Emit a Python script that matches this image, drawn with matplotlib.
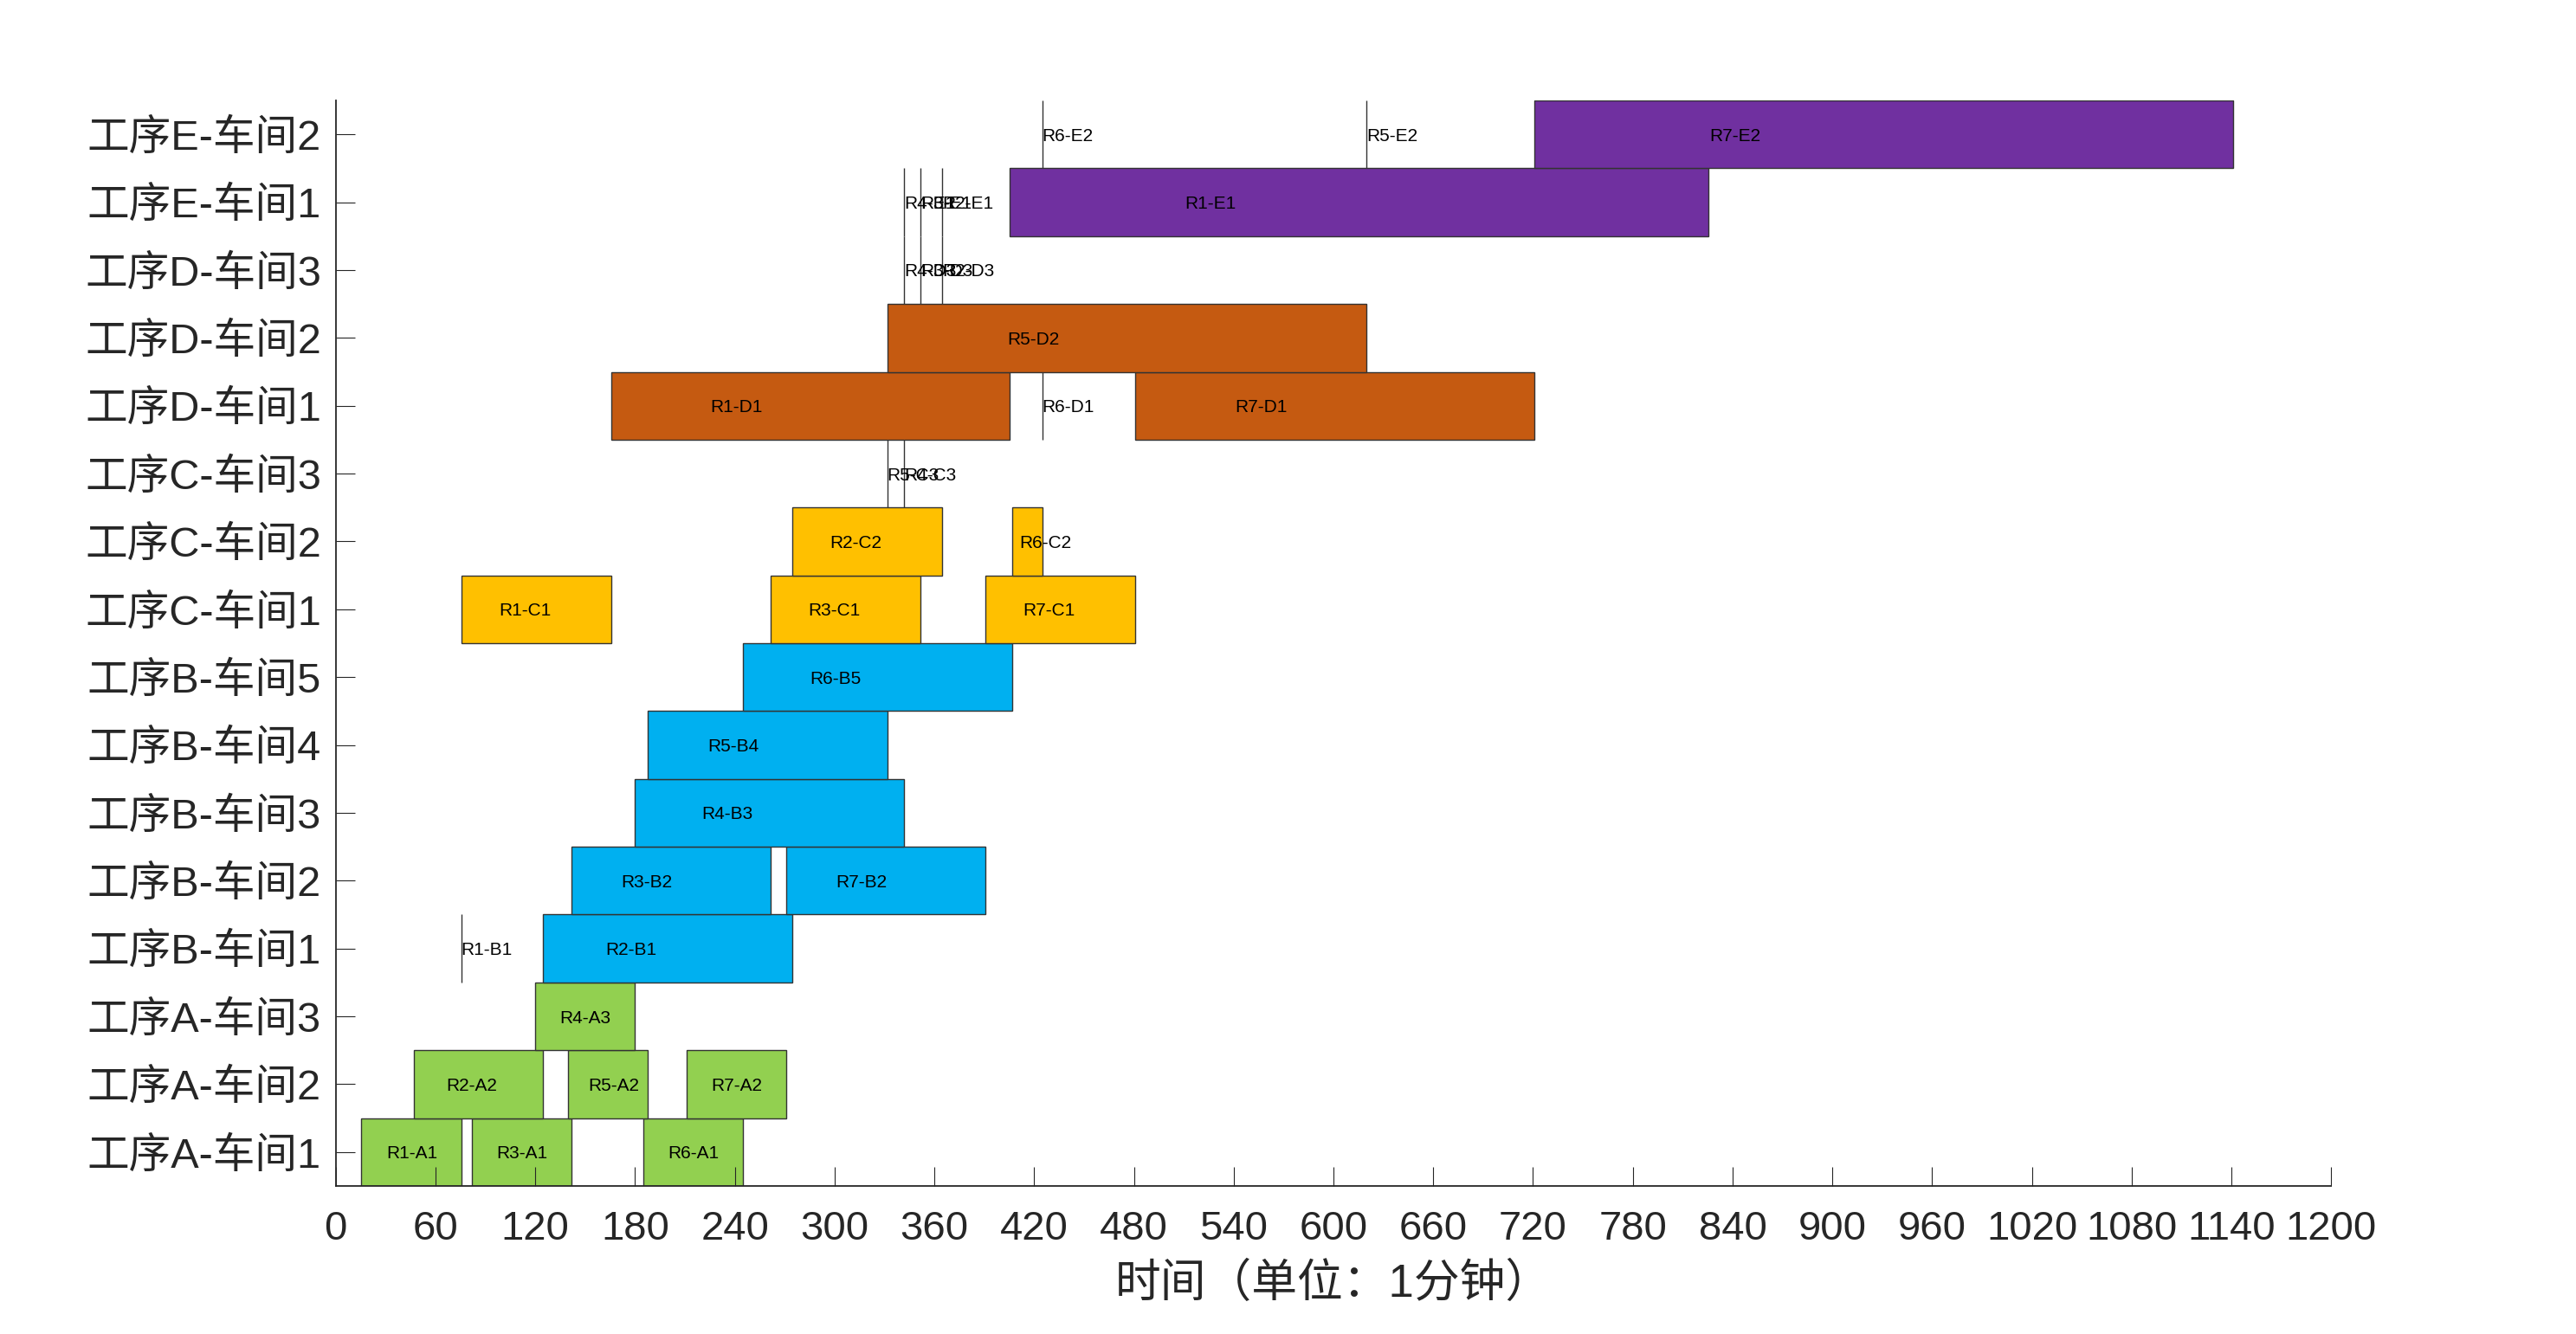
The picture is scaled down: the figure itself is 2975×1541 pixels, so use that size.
import matplotlib
matplotlib.use('Agg')
import matplotlib.pyplot as plt

# machine rows, bottom to top
machines = ['工序A-车间1', '工序A-车间2', '工序A-车间3',
            '工序B-车间1', '工序B-车间2', '工序B-车间3', '工序B-车间4', '工序B-车间5',
            '工序C-车间1', '工序C-车间2', '工序C-车间3',
            '工序D-车间1', '工序D-车间2', '工序D-车间3',
            '工序E-车间1', '工序E-车间2']

# each task: label, machine row (1-based), start, duration (minutes)
task_labels = ['R1-A1', 'R3-A1', 'R6-A1',
               'R2-A2', 'R5-A2', 'R7-A2',
               'R4-A3',
               'R1-B1', 'R2-B1',
               'R3-B2', 'R7-B2',
               'R4-B3',
               'R5-B4',
               'R6-B5',
               'R1-C1', 'R3-C1', 'R7-C1',
               'R2-C2', 'R6-C2',
               'R5-C3', 'R4-C3',
               'R1-D1', 'R6-D1', 'R7-D1',
               'R5-D2',
               'R4-D3', 'R3-D3', 'R2-D3',
               'R4-E1', 'R3-E1', 'R2-E1', 'R1-E1',
               'R6-E2', 'R5-E2', 'R7-E2']
task_rows = [1, 1, 1,
             2, 2, 2,
             3,
             4, 4,
             5, 5,
             6,
             7,
             8,
             9, 9, 9,
             10, 10,
             11, 11,
             12, 12, 12,
             13,
             14, 14, 14,
             15, 15, 15, 15,
             16, 16, 16]
task_starts = [15.5, 81.8, 184.8,
               46.8, 139.7, 210.9,
               119.7,
               75.5, 124.8,
               141.8, 270.9,
               179.7,
               187.7,
               244.8,
               75.5, 261.8, 390.9,
               274.8, 406.8,
               331.7, 341.7,
               165.5, 424.8, 480.9,
               331.7,
               341.7, 351.8, 364.8,
               341.7, 351.8, 364.8, 405.5,
               424.8, 619.7, 720.9]
task_durations = [60, 60, 60,
                  78, 48, 60,
                  60,
                  0, 150,
                  120, 120,
                  162,
                  144,
                  162,
                  90, 90, 90,
                  90, 18,
                  0, 0,
                  240, 0, 240,
                  288,
                  0, 0, 0,
                  0, 0, 0, 420,
                  0, 0, 420]

process_colors = {'A': '#92D050', 'B': '#00B0F0', 'C': '#FFC000',
                  'D': '#C55A11', 'E': '#7030A0'}

xticks = list(range(0, 1201, 60))

fonts = ['Liberation Sans', 'Noto Sans CJK SC', 'DejaVu Sans']
plt.rcParams['font.family'] = fonts

fig = plt.figure(figsize=(29.75, 15.41), dpi=100)
ax = fig.add_axes([0.1303, 0.111, 0.7747, 0.8137])

for lab, row, st, du in zip(task_labels, task_rows, task_starts, task_durations):
    color = process_colors[lab[3]]
    ax.barh(row, du, left=st, height=1.0, color=color,
            edgecolor='#333333', linewidth=1.0)
    ax.text(st + du / 4, row, lab, ha='left', va='center_baseline',
            fontsize=15, color='black')

ax.set_xlim(0, 1200)
ax.set_ylim(0.5, len(machines) + 0.5)
ax.set_xticks(xticks)
ax.set_xticklabels([str(t) for t in xticks])
ax.set_yticks(range(1, len(machines) + 1))
ax.set_yticklabels(machines)

ax.spines['top'].set_visible(False)
ax.spines['right'].set_visible(False)
for s in ['left', 'bottom']:
    ax.spines[s].set_linewidth(1.3)
    ax.spines[s].set_color('#262626')

ax.tick_params(axis='x', direction='in', length=16, width=0.8,
               labelsize=34, pad=20, colors='#262626')
ax.tick_params(axis='y', direction='in', length=16, width=0.8,
               labelsize=35, pad=12, colors='#262626')

ax.set_xlabel('时间（单位：1分钟）', fontsize=38, color='#262626', labelpad=12)

plt.savefig('out.png', dpi=100)
